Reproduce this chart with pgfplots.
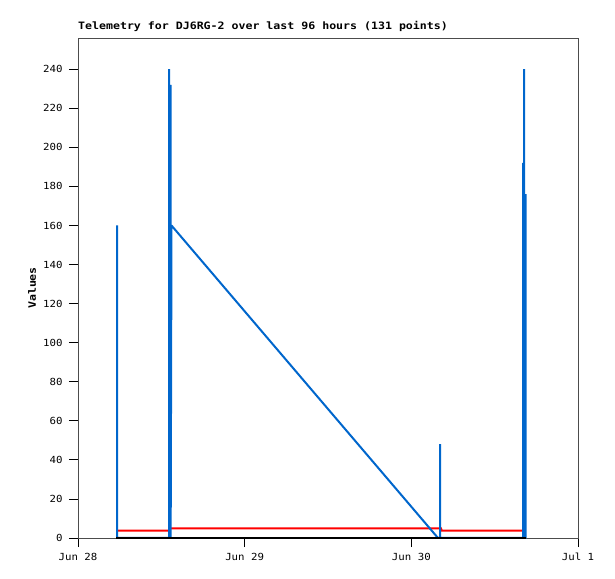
\documentclass[border=0pt]{standalone}
\usepackage{fontspec}
\setmainfont{DejaVu Sans Mono}[FakeStretch=1.1]
\newfontfamily\titlefont{DejaVu Sans Mono Bold}[FakeStretch=1.14]
\usepackage{pgfplots}
\pgfplotsset{compat=1.18}
\definecolor{tblue}{HTML}{0066CC}

\begin{document}
\begin{tikzpicture}[x=1bp,y=1bp]
\path[use as bounding box] (-78,-41) rectangle (537,538);
\begin{axis}[
    at={(0,0)}, anchor=south west,
    scale only axis, width=500bp, height=500bp,
    xmin=0, xmax=3, ymin=0, ymax=256,
    xtick={0,1,2,3},
    xticklabels={Jun 28, Jun 29, Jun 30, Jul 1},
    ytick={0,20,...,240},
    tick pos=left, tick align=outside,
    major tick length=9bp,
    tick style={black, line width=0.8bp},
    axis line style={black!70, line width=0.8bp},
    /pgf/number format/assume math mode=true,
    ticklabel style={font=\fontsize{9.8}{11}\selectfont},
    yticklabel style={xshift=-3bp},
    xticklabel style={yshift=-3bp},
    title={Telemetry for DJ6RG-2 over last 96 hours (131 points)},
    title style={at={(axis description cs:0,1)}, anchor=base west,
        yshift=3bp, inner sep=0pt, font=\titlefont\fontsize{10.2}{12}\selectfont},
    ylabel={Values},
    ylabel style={at={(axis description cs:-0.092,0.5)}, anchor=center,
        font=\titlefont\fontsize{10.2}{12}\selectfont},
    clip=false,
]
\addplot[red, line width=2bp] coordinates {
    (0.228,3.8) (0.546,3.8) (0.552,4.9) (2.178,4.9) (2.182,3.8) (2.676,3.8)
};
\addplot[tblue, line width=2bp, line join=bevel] coordinates {
    (0.234,0) (0.234,160) (0.234,0) (0.546,0) (0.546,240) (0.546,0)
    (0.556,0) (0.556,232) (0.556,0) (0.561,160) (2.160,0) (2.172,0)
    (2.172,48) (2.172,0) (2.671,0) (2.671,192) (2.671,0) (2.677,0)
    (2.677,240) (2.677,0) (2.686,0) (2.686,176) (2.686,0)
};
\addplot[black, line width=2.2bp] coordinates {
    (0.228,0) (2.69,0)
};
\end{axis}
\end{tikzpicture}
\end{document}
